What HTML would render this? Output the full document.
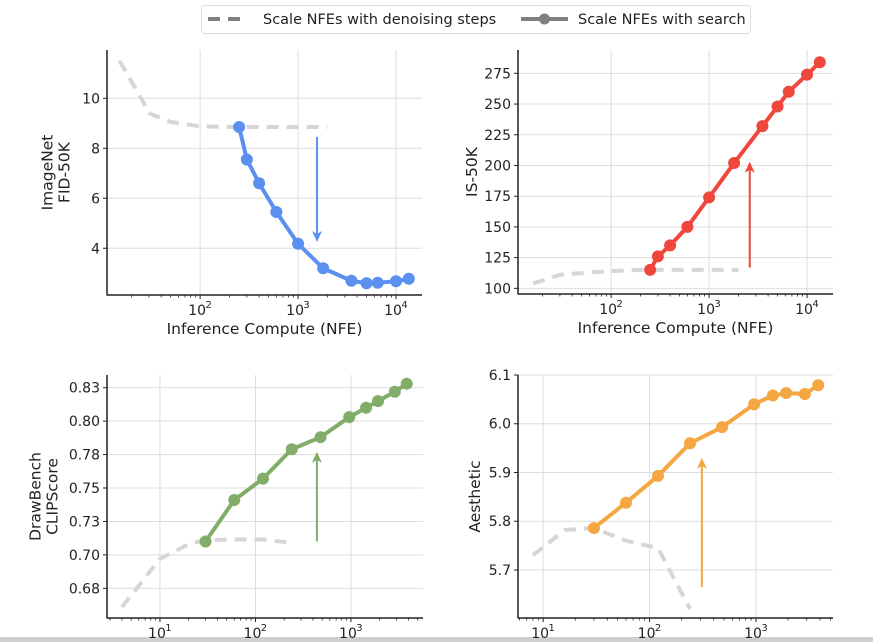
<!DOCTYPE html>
<html><head><meta charset="utf-8"><style>
body{margin:0;background:#fff;width:873px;height:642px;overflow:hidden}
svg{display:block;font-family:"DejaVu Sans","Liberation Sans",sans-serif}
</style></head><body>
<svg id="chart" width="873" height="642" viewBox="0 0 873 642" xmlns="http://www.w3.org/2000/svg">
<g>
<rect x="201.5" y="5.5" width="549" height="28" rx="3" fill="#fff" stroke="#ddd"/>
<line x1="208" y1="19" x2="242" y2="19" stroke="#808080" stroke-width="4" stroke-dasharray="12,8"/>
<text x="263" y="24" font-size="14.5" fill="#222">Scale NFEs with denoising steps</text>
<line x1="521" y1="19" x2="568" y2="19" stroke="#808080" stroke-width="4"/>
<circle cx="544.5" cy="19" r="5.5" fill="#808080"/>
<text x="578" y="24" font-size="14.5" fill="#222">Scale NFEs with search</text>
</g>
<rect x="0" y="637" width="873" height="5" fill="#cfcfcf"/>
</svg>
<script>
// Panel 1: ImageNet FID
const fidSearchX=[250,300,400,600,1000,1800,3500,5000,6500,10000,13500];
const fidSearchY=[8.85,7.55,6.6,5.45,4.18,3.2,2.7,2.6,2.62,2.68,2.78];
const fidDenoiseX=[15,25,30,50,100,200,2000];
const fidDenoiseY=[11.5,10.0,9.4,9.05,8.88,8.85,8.85];
const fidYTicks=[4,6,8,10];
const fidYLabels=["4","6","8","10"];
// Panel 2: IS
const isSearchX=[250,300,400,600,1000,1800,3500,5000,6500,10000,13500];
const isSearchY=[115,126,135,150,174,202,232,248,260,274,284];
const isDenoiseX=[16,30,60,100,200,2000];
const isDenoiseY=[104,111,113,114,115,115];
const isYTicks=[100,125,150,175,200,225,250,275];
const isYLabels=["100","125","150","175","200","225","250","275"];
// Panel 3: CLIPScore
const clipSearchX=[30,60,120,240,480,960,1440,1920,2880,3840];
const clipSearchY=[0.710,0.741,0.757,0.779,0.788,0.803,0.810,0.815,0.822,0.828];
const clipDenoiseX=[4,10,20,30,60,120,240];
const clipDenoiseY=[0.661,0.697,0.708,0.711,0.7115,0.7115,0.709];
const clipYTicks=[0.675,0.7,0.725,0.75,0.775,0.8,0.825];
const clipYLabels=["0.68","0.70","0.73","0.75","0.78","0.80","0.83"];
// Panel 4: Aesthetic
const aesSearchX=[30,60,120,240,480,960,1440,1920,2880,3840];
const aesSearchY=[5.786,5.838,5.893,5.96,5.993,6.04,6.058,6.063,6.061,6.079];
const aesDenoiseX=[8,16,30,60,120,240];
const aesDenoiseY=[5.73,5.782,5.786,5.76,5.745,5.62];
const aesYTicks=[5.7,5.8,5.9,6.0,6.1];
const aesYLabels=["5.7","5.8","5.9","6.0","6.1"];

const NS="http://www.w3.org/2000/svg";
const svg=document.getElementById('chart');
function mk(t,a,p){const e=document.createElementNS(NS,t);for(const k in a)e.setAttribute(k,a[k]);(p||svg).appendChild(e);return e;}

const panels=[
 {id:'fid',L:107,R:422,T:50,B:295,xmin:11.2,xmax:18400,ymin:2.13,ymax:11.93,xdec:[2,3,4],
  sx:fidSearchX,sy:fidSearchY,dx:fidDenoiseX,dy:fidDenoiseY,yt:fidYTicks,yl:fidYLabels,color:'#5b8ff0',
  arrow:[1560,8.45,4.25],ylab:['ImageNet','FID-50K'],ylx:56,xlab:true},
 {id:'is',L:518,R:833,T:50,B:294,xmin:11.2,xmax:18400,ymin:95.4,ymax:294,xdec:[2,3,4],
  sx:isSearchX,sy:isSearchY,dx:isDenoiseX,dy:isDenoiseY,yt:isYTicks,yl:isYLabels,color:'#f0473d',
  arrow:[2600,117,203],ylab:['IS-50K'],ylx:472,xlab:true},
 {id:'clip',L:107,R:423,T:375,B:618,xmin:2.79,xmax:5680,ymin:0.6528,ymax:0.8345,xdec:[1,2,3],
  sx:clipSearchX,sy:clipSearchY,dx:clipDenoiseX,dy:clipDenoiseY,yt:clipYTicks,yl:clipYLabels,color:'#82ad68',
  arrow:[440,0.71,0.777],ylab:['DrawBench','CLIPScore'],ylx:44,xlab:false},
 {id:'aes',L:518,R:833,T:375,B:618,xmin:5.8,xmax:5290,ymin:5.6015,ymax:6.1,xdec:[1,2,3],
  sx:aesSearchX,sy:aesSearchY,dx:aesDenoiseX,dy:aesDenoiseY,yt:aesYTicks,yl:aesYLabels,color:'#f4a640',
  arrow:[310,5.665,5.93],ylab:['Aesthetic'],ylx:475,xlab:false}
];

panels.forEach(p=>{
 const g=mk('g',{});
 
 
 const lx0=Math.log10(p.xmin),lx1=Math.log10(p.xmax);
 const X=v=>p.L+(Math.log10(v)-lx0)/(lx1-lx0)*(p.R-p.L);
 const Y=v=>p.B-(v-p.ymin)/(p.ymax-p.ymin)*(p.B-p.T);
 p.yt.forEach((t,i)=>{
  mk('line',{x1:p.L,x2:p.R,y1:Y(t),y2:Y(t),stroke:'#ddd','stroke-width':1},g);
  const tl=mk('text',{x:p.L-7,y:Y(t)+5,'text-anchor':'end','font-size':14,fill:'#222'},g);
  tl.textContent=p.yl[i];
  
  
  mk('line',{x1:p.L-4,x2:p.L,y1:Y(t),y2:Y(t),stroke:'#222','stroke-width':1},g);
 });
 p.xdec.forEach(d=>{
  const x=X(Math.pow(10,d));
  mk('line',{x1:x,x2:x,y1:p.T,y2:p.B,stroke:'#ddd','stroke-width':1},g);
  mk('line',{x1:x,x2:x,y1:p.B,y2:p.B+4,stroke:'#222','stroke-width':1},g);
  const tl=mk('text',{x:x-3,y:p.B+20,'text-anchor':'middle','font-size':14,fill:'#222'},g);
  tl.textContent='10';
  
  
  const sup=mk('text',{x:x+8.5,y:p.B+13,'text-anchor':'middle','font-size':10,fill:'#222'},g);
  sup.textContent=String(d);
 });
 for(let d=Math.floor(lx0);d<=Math.ceil(lx1);d++){
  for(let m=2;m<10;m++){const v=m*Math.pow(10,d);if(v<p.xmin||v>p.xmax)continue;
   const x=X(v);mk('line',{x1:x,x2:x,y1:p.B,y2:p.B+2.5,stroke:'#222','stroke-width':0.8},g);}
 }
 mk('line',{x1:p.L,x2:p.L,y1:p.T,y2:p.B+0.5,stroke:'#222','stroke-width':1.5},g);
 mk('line',{x1:p.L,x2:p.R,y1:p.B,y2:p.B,stroke:'#222','stroke-width':1.5},g);
 const dl=mk('polyline',{points:p.dx.map((v,i)=>X(v)+','+Y(p.dy[i])).join(' '),fill:'none',stroke:'#d6d6d6','stroke-width':4,'stroke-dasharray':'12,8'},g);
 
 
 const sl=mk('polyline',{points:p.sx.map((v,i)=>X(v)+','+Y(p.sy[i])).join(' '),fill:'none',stroke:p.color,'stroke-width':4,'stroke-linejoin':'round'},g);
 
 
 p.sx.forEach((v,i)=>{
  const c=mk('circle',{cx:X(v),cy:Y(p.sy[i]),r:6,fill:p.color},g);
  
  
 });
 const ax=X(p.arrow[0]),y0=Y(p.arrow[1]),y1=Y(p.arrow[2]);
 const dir=y1<y0?1:-1;
 const ar=mk('g',{},g);
 
 
 mk('line',{x1:ax,x2:ax,y1:y0,y2:y1+dir*2,stroke:p.color,'stroke-width':2},ar);
 mk('polygon',{points:`${ax},${y1} ${ax-5},${y1+dir*11} ${ax},${y1+dir*8} ${ax+5},${y1+dir*11}`,fill:p.color},ar);
 const cy=(p.T+p.B)/2;
 const n=p.ylab.length;
 p.ylab.forEach((s,i)=>{
  const x=p.ylx+(i-(n-1)/2)*17;
  const t=mk('text',{x:x+5,y:cy,transform:`rotate(-90 ${x+5} ${cy})`,'text-anchor':'middle','font-size':15.5,fill:'#222'},g);
  t.textContent=s;
  
  
 });
 if(p.xlab){
  const t=mk('text',{x:(p.L+p.R)/2,y:p.B+39,'text-anchor':'middle','font-size':15.5,fill:'#222'},g);
  t.textContent='Inference Compute (NFE)';
  
  
 }
});
</script>
</body></html>
